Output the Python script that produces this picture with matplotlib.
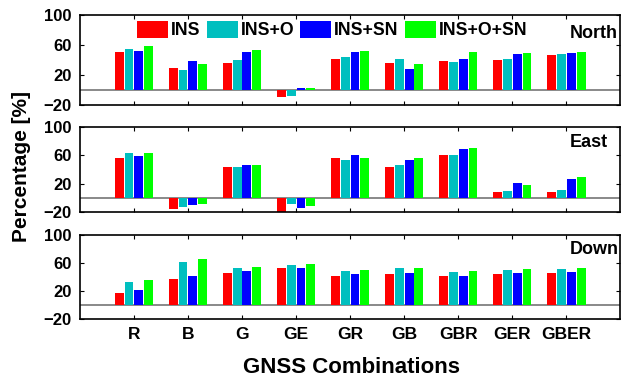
import matplotlib
matplotlib.use('Agg')
import matplotlib.pyplot as plt
import numpy as np

plt.rcParams['font.family'] = ['Liberation Sans', 'DejaVu Sans']
plt.rcParams['font.weight'] = 'bold'

combos = ['R', 'B', 'G', 'GE', 'GR', 'GB', 'GBR', 'GER', 'GBER']
series = ['INS', 'INS+O', 'INS+SN', 'INS+O+SN']
colors = ['#ff0000', '#00bfbf', '#0000ff', '#00ff00']

# percentage values, one list per series
north_ins = [50, 29, 36, -9, 41, 36, 39, 40, 47]
north_ins_o = [55, 27, 40, -7.5, 44, 41, 37, 41, 48]
north_ins_sn = [52, 39, 50, 2.7, 51, 28, 41, 48, 49]
north_ins_o_sn = [59, 35, 53, 2.7, 52, 35, 51, 49, 51]

east_ins = [56, -15.5, 44, -21, 56, 44, 60, 8.6, 8.6]
east_ins_o = [63, -13, 44, -8.6, 53, 46, 60, 10, 11.4]
east_ins_sn = [59, -10, 47, -14.3, 60, 53, 68.6, 21.4, 27]
east_ins_o_sn = [64, -8.6, 46, -11.4, 56, 56, 70, 18.6, 30]

down_ins = [17, 38, 46.5, 53.5, 42.3, 45, 41, 45, 46.5]
down_ins_o = [32.6, 62, 53.5, 57.7, 49.3, 53.5, 48, 50.7, 52]
down_ins_sn = [21.4, 42.3, 49.3, 53.5, 45, 46.5, 42.3, 46.5, 48]
down_ins_o_sn = [35.3, 66, 55, 59, 50.7, 53.5, 49.3, 52, 53.5]

panels = [
    ('North', [north_ins, north_ins_o, north_ins_sn, north_ins_o_sn], 0.723, 0.2375, 75),
    ('East', [east_ins, east_ins_o, east_ins_sn, east_ins_o_sn], 0.4406, 0.224, 78),
    ('Down', [down_ins, down_ins_o, down_ins_sn, down_ins_o_sn], 0.158, 0.2216, 80),
]

fig = plt.figure(figsize=(6.24, 3.79), dpi=100)
x = np.arange(1, len(combos) + 1)
step = 0.183
width = 0.165

axes = []
for name, vals, bottom, height, ylab in panels:
    ax = fig.add_axes([0.128, bottom, 0.866, height])
    ax.axhline(0, color='#808080', lw=1.3, zorder=1)
    for i, (v, c) in enumerate(zip(vals, colors)):
        ax.bar(x + (i - 1.5) * step, v, width=width, color=c, label=series[i], zorder=2)
    ax.set_xlim(0, 10)
    ax.set_ylim(-20, 100)
    ax.set_yticks([-20, 20, 60, 100])
    ax.set_xticks(x)
    ax.tick_params(direction='in', top=True, right=True, length=3, width=0.8,
                   labelsize=12, pad=6)
    for s in ax.spines.values():
        s.set_linewidth(1.2)
    ax.text(9.07, ylab, name, fontsize=13, fontweight='bold', va='center', ha='left')
    axes.append(ax)

for ax in axes[:2]:
    ax.set_xticklabels([])
axes[2].set_xticklabels(combos, fontsize=12.5)
fig.text(0.564, 0.03, 'GNSS Combinations', fontsize=16, fontweight='bold',
         ha='center', va='center')

handles, labels = axes[0].get_legend_handles_labels()
fig.legend(handles, labels, loc='center left', bbox_to_anchor=(0.2196, 0.9208),
           ncol=4, frameon=False, fontsize=12.7, handlelength=1.76, handleheight=1.08,
           handletextpad=0.17, columnspacing=0.34, borderpad=0, borderaxespad=0)

fig.text(0.034, 0.56, 'Percentage [%]', rotation=90, fontsize=15, fontweight='bold',
         ha='center', va='center')

fig.savefig('out.png', dpi=100)
